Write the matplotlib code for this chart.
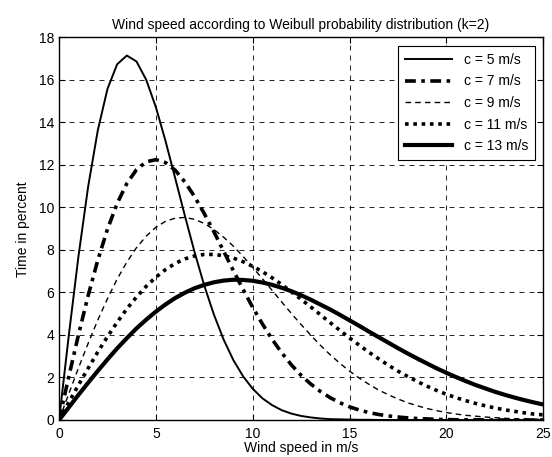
import matplotlib
matplotlib.use("Agg")
import matplotlib.pyplot as plt

plt.rcParams['font.family'] = ['Liberation Sans', 'DejaVu Sans']

# wind speed in m/s, 0 to 25 in 0.5 steps
speed = [i * 0.5 for i in range(51)]

# time in percent
c5 = [0, 3.96, 7.69, 10.97, 13.63, 15.58, 16.74, 17.15, 16.87, 16.01,
      14.72, 13.12, 11.37, 9.60, 7.89, 6.32, 4.95, 3.78, 2.82, 2.06,
      1.47, 1.02, 0.70, 0.46, 0.30, 0.19, 0.12, 0.07, 0.04, 0.03,
      0.02, 0.01, 0.01, 0, 0, 0, 0, 0, 0, 0,
      0, 0, 0, 0, 0, 0, 0, 0, 0, 0, 0]
c7 = [0, 2.03, 4.00, 5.85, 7.52, 8.98, 10.19, 11.13, 11.78, 12.15,
      12.25, 12.11, 11.75, 11.20, 10.51, 9.71, 8.85, 7.94, 7.03, 6.15,
      5.30, 4.52, 3.80, 3.16, 2.59, 2.10, 1.69, 1.34, 1.05, 0.81,
      0.62, 0.47, 0.35, 0.26, 0.19, 0.14, 0.10, 0.07, 0.05, 0.03,
      0.02, 0.01, 0.01, 0.01, 0, 0, 0, 0, 0, 0, 0]
c9 = [0, 1.23, 2.44, 3.60, 4.70, 5.71, 6.63, 7.43, 8.11, 8.65,
      9.07, 9.35, 9.50, 9.53, 9.44, 9.25, 8.96, 8.60, 8.18, 7.70,
      7.18, 6.65, 6.10, 5.55, 5.01, 4.49, 3.99, 3.51, 3.07, 2.67,
      2.30, 1.97, 1.68, 1.41, 1.19, 0.99, 0.81, 0.67, 0.54, 0.44,
      0.35, 0.28, 0.22, 0.18, 0.14, 0.11, 0.08, 0.06, 0.05, 0.04, 0.03]
c11 = [0, 0.83, 1.64, 2.43, 3.20, 3.92, 4.60, 5.23, 5.79, 6.29,
       6.72, 7.08, 7.37, 7.58, 7.72, 7.79, 7.79, 7.73, 7.62, 7.45,
       7.23, 6.98, 6.69, 6.37, 6.03, 5.68, 5.32, 4.95, 4.58, 4.22,
       3.86, 3.52, 3.19, 2.88, 2.58, 2.30, 2.05, 1.81, 1.59, 1.39,
       1.21, 1.05, 0.91, 0.78, 0.67, 0.57, 0.48, 0.41, 0.34, 0.28, 0.24]
c13 = [0, 0.59, 1.18, 1.75, 2.31, 2.85, 3.37, 3.85, 4.31, 4.72,
       5.10, 5.44, 5.74, 5.99, 6.20, 6.36, 6.48, 6.56, 6.60, 6.59,
       6.55, 6.47, 6.36, 6.22, 6.06, 5.87, 5.66, 5.43, 5.20, 4.95,
       4.69, 4.43, 4.16, 3.90, 3.64, 3.38, 3.13, 2.89, 2.66, 2.43,
       2.22, 2.02, 1.83, 1.65, 1.49, 1.33, 1.19, 1.06, 0.94, 0.83, 0.73]

labels = ['c = 5 m/s', 'c = 7 m/s', 'c = 9 m/s', 'c = 11 m/s', 'c = 13 m/s']

fig = plt.figure(figsize=(5.52, 4.57), dpi=100)
ax = fig.add_axes([0.107, 0.081, 0.877, 0.837])

ax.plot(speed, c5, color='black', lw=1.4, ls='-', label=labels[0])
ax.plot(speed, c7, color='black', lw=2.6, ls=(0, (3, 1.5, 1, 1.5)), label=labels[1])
ax.plot(speed, c9, color='black', lw=1.0, ls=(0, (4, 3)), label=labels[2])
ax.plot(speed, c11, color='black', lw=2.6, ls=(0, (1, 1.3)), label=labels[3])
ax.plot(speed, c13, color='black', lw=3.0, ls='-', label=labels[4])

ax.set_xlim(0, 25)
ax.set_ylim(0, 18)
ax.set_xticks([0, 5, 10, 15, 20, 25])
ax.set_yticks(range(0, 19, 2))
ax.grid(True, color='black', ls=(0, (6, 6)), lw=0.6)
ax.tick_params(direction='in', top=True, right=True, labelsize=10, length=4)
ax.tick_params(axis='x', pad=5)
for s in ax.spines.values():
    s.set_linewidth(1.0)

ax.set_title('Wind speed according to Weibull probability distribution (k=2)', fontsize=10, pad=6)
ax.set_xlabel('Wind speed in m/s', fontsize=10, labelpad=0)
ax.set_ylabel('Time in percent', fontsize=10, labelpad=6)

leg = ax.legend(loc='upper right', fontsize=10, fancybox=False, framealpha=1,
                edgecolor='black', handlelength=3.4, borderaxespad=0.6,
                labelspacing=0.55, borderpad=0.5)
leg.get_frame().set_linewidth(0.8)

fig.savefig('out.png', dpi=100)
